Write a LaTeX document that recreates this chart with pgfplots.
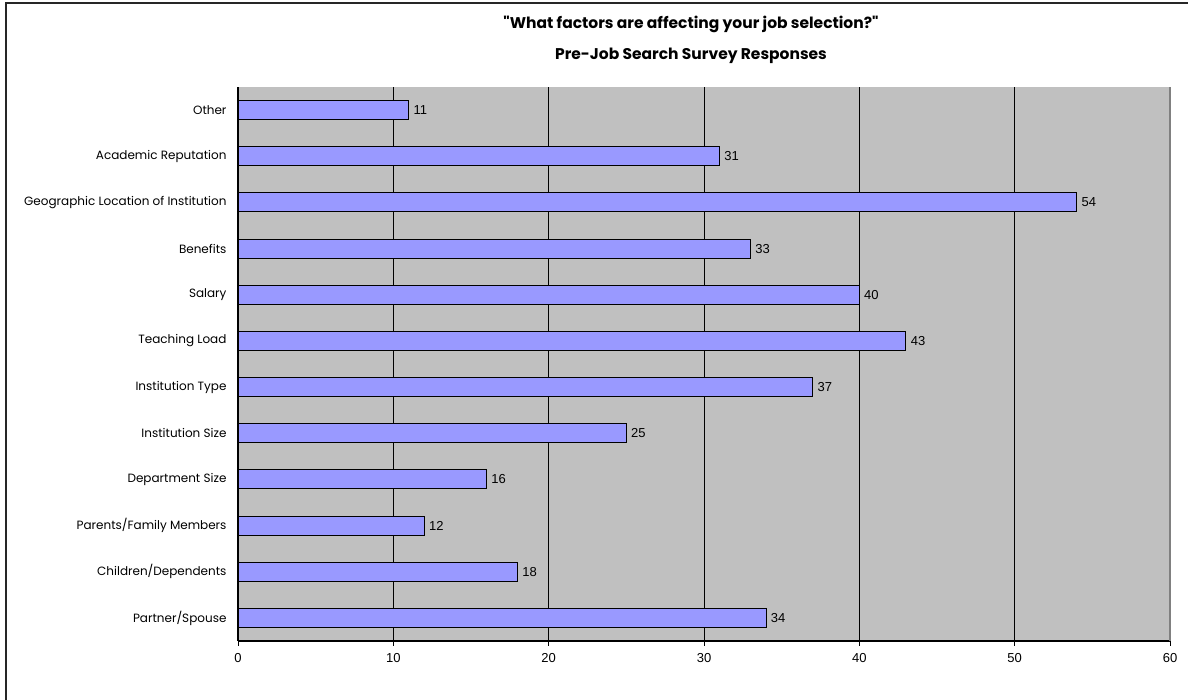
\documentclass[border=0pt]{standalone}
\usepackage{pgfplots}
\pgfplotsset{compat=1.18}
\usepackage{fontspec}
\setmainfont{Liberation Sans}
\newfontfamily\gothic{Poppins}

\definecolor{plotgray}{HTML}{C0C0C0}
\definecolor{edgegray}{HTML}{808080}
\definecolor{barblue}{HTML}{9999FF}

% Responses per factor, bottom row first
\pgfplotstableread{
idx value
1  34
2  18
3  12
4  16
5  25
6  37
7  43
8  40
9  33
10 54
11 31
12 11
}\responses

\begin{document}
\begin{tikzpicture}[x=1pt,y=1pt]
\useasboundingbox (0,0) rectangle (1188,700);
% frame of the chart area
\draw[line width=2pt, black!85] (6,0) -- (6,697) -- (1188,697);

\begin{axis}[
  at={(238pt,59pt)}, anchor=south west,
  scale only axis, width=932pt, height=554pt,
  xbar, bar width=19pt,
  xmin=0, xmax=60, ymin=0.5, ymax=12.5,
  axis x line*=bottom, axis y line*=left,
  axis line style={black, line width=1.2pt},
  axis background/.style={fill=plotgray},
  xtick={0,10,...,60},
  xmajorgrids, grid style={black, line width=0.9pt},
  tick align=outside,
  major tick length=5pt, minor tick length=5pt,
  x tick style={black, line width=1pt},
  ytick={1,...,12},
  y tick style={draw=none},
  minor ytick={0.5,1.5,...,12.5},
  minor y tick style={black, line width=1pt},
  yticklabels={Partner/Spouse, Children/Dependents, Parents/Family Members,
    Department Size, Institution Size, Institution Type, Teaching Load,
    Salary, Benefits, Geographic Location of Institution,
    Academic Reputation, Other},
  yticklabel style={font=\gothic\fontsize{12}{14}\selectfont, xshift=-3pt},
  xticklabel style={font=\fontsize{13}{15}\selectfont, yshift=-4pt},
  /pgf/number format/assume math mode=true,
  nodes near coords,
  nodes near coords align=horizontal,
  every node near coord/.append style={font=\fontsize{13}{15}\selectfont, black, xshift=1pt},
  clip=false,
]
\addplot[fill=barblue, draw=black, line width=1pt] table[x=value, y=idx] {\responses};
\draw[edgegray, line width=1.5pt] (rel axis cs:1,0) -- (rel axis cs:1,1);
\end{axis}

\node[font=\gothic\bfseries\fontsize{15.5}{31}\selectfont, align=center] at (691,660)
  {"What factors are affecting your job selection?"\\Pre-Job Search Survey Responses};
\end{tikzpicture}
\end{document}
